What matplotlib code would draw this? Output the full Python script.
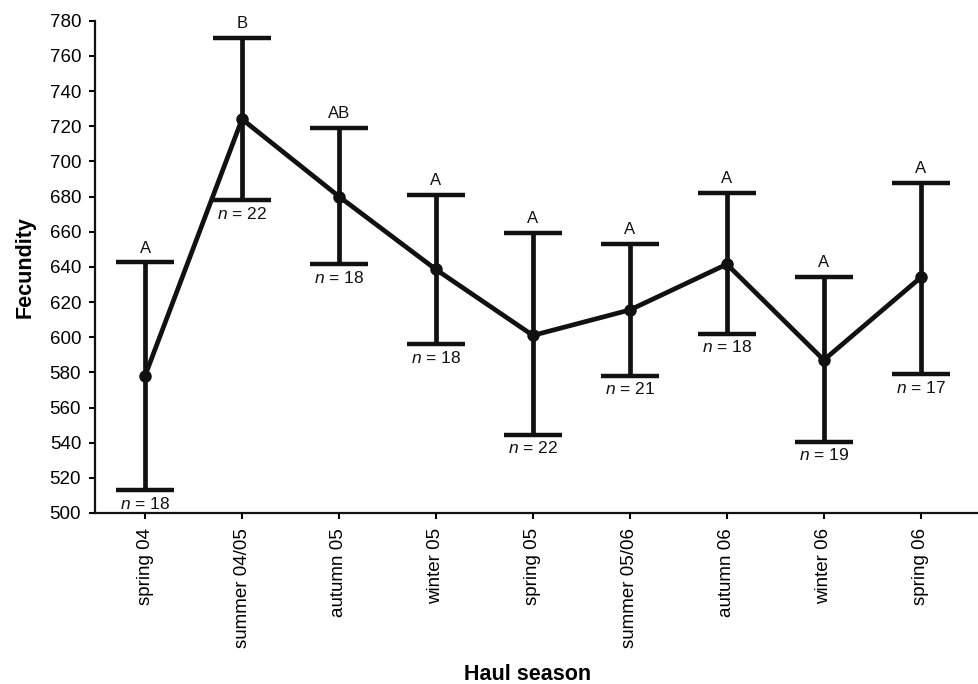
import matplotlib
matplotlib.use("Agg")
import matplotlib.pyplot as plt

plt.rcParams['font.family'] = ['Liberation Sans', 'DejaVu Sans']
plt.rcParams['mathtext.fontset'] = 'custom'
plt.rcParams['mathtext.it'] = 'Liberation Sans:italic'
plt.rcParams['mathtext.rm'] = 'Liberation Sans'

seasons = ["spring 04", "summer 04/05", "autumn 05", "winter 05", "spring 05",
           "summer 05/06", "autumn 06", "winter 06", "spring 06"]
means = [578, 724, 680, 638.5, 601, 615.5, 641.5, 587, 634]
upper = [642.5, 770, 719, 681, 659, 653, 682, 634, 687.5]
lower = [513, 678, 641.5, 596, 544.6, 578, 602, 540.5, 579]
groups = ["A", "B", "AB", "A", "A", "A", "A", "A", "A"]
ns = [18, 22, 18, 18, 22, 21, 18, 19, 17]
yticks = list(range(500, 781, 20))

fig = plt.figure(figsize=(9.79, 6.84), dpi=100)
ax = fig.add_axes([95/979, 1-513/684, 1-95/979, (513-20.7)/684])

x = list(range(len(seasons)))
yerr = [[m - l for m, l in zip(means, lower)], [u - m for m, u in zip(means, upper)]]
ax.errorbar(x, means, yerr=yerr, fmt='o-', color='#111111', lw=3.4, ms=8,
            elinewidth=3.4, capsize=21, capthick=3.2, zorder=3)

for xi, u, l, g, n in zip(x, upper, lower, groups, ns):
    ax.annotate(g, (xi, u), xytext=(0, 5), textcoords='offset points',
                ha='center', va='bottom', fontsize=12, color='#111111')
    ax.annotate(r"$n$ = %d" % n, (xi, l), xytext=(0, -4), textcoords='offset points',
                ha='center', va='top', fontsize=12.5, color='#111111')

ax.set_xlim(-0.516, 8.6)
ax.set_ylim(500, 780)
ax.set_yticks(yticks)
ax.set_xticks(x)
ax.set_xticklabels(seasons, rotation=90, fontsize=13.5)
ax.tick_params(axis='y', labelsize=13.5, length=4, width=1.5, pad=6, direction='out')
ax.tick_params(axis='x', length=4, width=1.5, pad=7, direction='out')
for s in ['top', 'right']:
    ax.spines[s].set_visible(False)
for s in ['left', 'bottom']:
    ax.spines[s].set_linewidth(1.6)
    ax.spines[s].set_color('#111111')

ax.set_ylabel("Fecundity", fontsize=15.5, fontweight='bold', labelpad=10)
fig.text(528/979, 1-675/684, "Haul season", ha='center', va='center',
         fontsize=15.5, fontweight='bold')

fig.savefig("out.png", dpi=100)
